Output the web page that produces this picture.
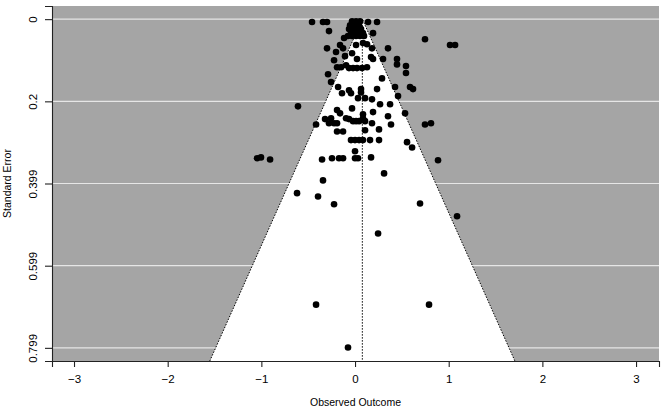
<!DOCTYPE html>
<html>
<head>
<meta charset="utf-8">
<script src="https://cdn.jsdelivr.net/npm/d3@7"></script>
<style>
	body { margin: 0; background: #fff; }
	text { font-family: "Liberation Sans", Arial, Helvetica, sans-serif; fill: #000; }
</style>
</head>
<body>
<div id="appFunnel"></div>
<script>
///////////////////////////////////////////////////////////////////////////
//////////////////////////// data /////////////////////////////////////////
///////////////////////////////////////////////////////////////////////////

// observed outcome of each study
const estimates = [
	-0.459, -0.342, -0.299, -0.032, 0.011, 0.053, 0.139, 0.235, -0.278,
	-0.053, 0, 0.043, -0.064, -0.021, 0.021, 0.064, -0.043, 0, 0.043, 0.085, -0.075, -0.032, 0.011, 0.053, 0.096,
	0.192, -0.117, 0.747, 1.014, 1.068,
	-0.299, -0.203, -0.16, -0.128, -0.032, 0.011, 0.085, 0.128, 0.181, 0.352,
	-0.224, -0.107, 0.021, 0.171, 0.192, 0.299, 0.448, 0.448, 0.544, 0.544,
	-0.288, -0.192, -0.149, -0.096, -0.064, -0.021, 0.021, 0.075, 0.128, 0.288,
	-0.256, -0.181, -0.064, -0.043, 0.064, 0.064, 0.032, 0.107, 0.181, 0.235, 0.427, 0.459, 0.587, 0.619, -0.139,
	-0.609, -0.192, -0.16, -0.032, 0.085, 0.192, 0.267, 0.374, 0.352, 0.534,
	-0.32, -0.256, -0.278, -0.224, -0.192, -0.416, -0.096, -0.064, -0.021, 0.011, 0.043, 0.085, 0.107, 0.181, 0.384, 0.747, 0.811,
	-0.192, -0.128, 0.107, 0.256,
	-0.043, 0, 0.043, 0.085, 0.16, 0.256, 0.555, 0.609, 0,
	-1.046, -1.004, -0.907, -0.352, -0.246, -0.171, -0.128, 0, 0.032, 0.171, 0.886,
	0.31, -0.342, -0.619, -0.395, -0.224, 0.694, 1.089, 0.246, -0.416, 0.79, -0.075
];

// standard error of each study
const stdErrors = [
	0.007, 0.007, 0.007, 0.005, 0.005, 0.005, 0.007, 0.007, 0.029,
	0.015, 0.015, 0.015, 0.024, 0.024, 0.024, 0.024, 0.034, 0.034, 0.034, 0.034, 0.041, 0.041, 0.041, 0.041, 0.041,
	0.034, 0.046, 0.049, 0.063, 0.063,
	0.071, 0.08, 0.063, 0.071, 0.083, 0.063, 0.058, 0.061, 0.071, 0.071,
	0.1, 0.09, 0.097, 0.092, 0.097, 0.097, 0.097, 0.11, 0.114, 0.131,
	0.134, 0.117, 0.117, 0.112, 0.119, 0.119, 0.119, 0.119, 0.117, 0.144,
	0.153, 0.165, 0.173, 0.18, 0.17, 0.178, 0.192, 0.192, 0.195, 0.17, 0.165, 0.187, 0.165, 0.17, 0.18,
	0.212, 0.221, 0.229, 0.217, 0.231, 0.226, 0.207, 0.207, 0.236, 0.229,
	0.243, 0.241, 0.253, 0.253, 0.253, 0.256, 0.241, 0.243, 0.248, 0.248, 0.248, 0.241, 0.248, 0.253, 0.256, 0.256, 0.253,
	0.273, 0.273, 0.27, 0.268,
	0.294, 0.294, 0.294, 0.294, 0.294, 0.294, 0.299, 0.312, 0.321,
	0.338, 0.336, 0.341, 0.341, 0.338, 0.338, 0.338, 0.338, 0.338, 0.336, 0.343,
	0.375, 0.392, 0.423, 0.431, 0.45, 0.448, 0.479, 0.521, 0.694, 0.694, 0.798
];

const pooledEstimate = 0.078;
const maxStdError = 0.799;

const xTicks = [-3, -2, -1, 0, 1, 2, 3];
const yTicks = [0, 0.1998, 0.3995, 0.5993, 0.799];
const yTickLabels = ["0", "0.2", "0.399", "0.599", "0.799"];

///////////////////////////////////////////////////////////////////////////
//////////////////////////// drawing function /////////////////////////////
///////////////////////////////////////////////////////////////////////////

const createChart = () => {
	const data = estimates.map((d, i) => ({ est: d, se: stdErrors[i] }));

	const xAccessor = (d) => d.est;
	const yAccessor = (d) => d.se;

	//////////////////////////// sizes ///////////////////////////////////

	let dimensions = {
		width: 666,
		height: 413,
		margin: { top: 6, right: 7, bottom: 52, left: 52 }
	};
	dimensions.boundedWidth =
		dimensions.width - dimensions.margin.left - dimensions.margin.right;
	dimensions.boundedHeight =
		dimensions.height - dimensions.margin.top - dimensions.margin.bottom;

	const wrapper = d3
		.select("#appFunnel")
		.append("svg")
		.attr("width", dimensions.width)
		.attr("height", dimensions.height);

	const bounds = wrapper
		.append("g")
		.attr("transform", `translate(${dimensions.margin.left},${dimensions.margin.top})`);

	//////////////////////////// scales ///////////////////////////////////////

	// R style 4% padding around the se range
	const pad = maxStdError * 0.04;
	const seBottom = maxStdError + pad;

	const xScale = d3
		.scaleLinear()
		.domain([-3.235, 3.245])
		.range([0, dimensions.boundedWidth]);

	const yScale = d3
		.scaleLinear()
		.domain([-pad, seBottom])
		.range([0, dimensions.boundedHeight]);

	//////////////////////////// background + grid ///////////////////////////

	bounds
		.append("rect")
		.attr("width", dimensions.boundedWidth)
		.attr("height", dimensions.boundedHeight)
		.attr("fill", "#a5a5a5");

	bounds
		.append("g")
		.selectAll("line")
		.data(yTicks)
		.join("line")
		.attr("x1", 0)
		.attr("x2", dimensions.boundedWidth)
		.attr("y1", (d) => yScale(d))
		.attr("y2", (d) => yScale(d))
		.attr("stroke", "#e6e6e6")
		.attr("stroke-width", 1.2);

	//////////////////////////// funnel ///////////////////////////////////////

	const funnel = [
		[pooledEstimate - 1.96 * seBottom, seBottom],
		[pooledEstimate, 0],
		[pooledEstimate + 1.96 * seBottom, seBottom]
	];

	const line = d3
		.line()
		.x((d) => xScale(d[0]))
		.y((d) => yScale(d[1]));

	bounds
		.append("path")
		.attr("d", line(funnel) + "Z")
		.attr("fill", "#fff");

	bounds
		.append("path")
		.attr("d", line(funnel))
		.attr("fill", "none")
		.attr("stroke", "#000")
		.attr("stroke-width", 1)
		.attr("stroke-dasharray", "1.5,1.5");

	bounds
		.append("line")
		.attr("x1", xScale(pooledEstimate))
		.attr("x2", xScale(pooledEstimate))
		.attr("y1", yScale(0))
		.attr("y2", yScale(seBottom))
		.attr("stroke", "#000")
		.attr("stroke-width", 1)
		.attr("stroke-dasharray", "1.5,1.5");

	//////////////////////////// points ///////////////////////////////////////

	bounds
		.selectAll(".dots")
		.data(data)
		.join("circle")
		.attr("class", "dots")
		.attr("cx", (d) => xScale(xAccessor(d)))
		.attr("cy", (d) => yScale(yAccessor(d)))
		.attr("r", 3.3)
		.attr("fill", "#000");

	//////////////////////////// axes /////////////////////////////////////////

	const xAxisGenerator = d3
		.axisBottom(xScale)
		.tickValues(xTicks)
		.tickFormat(d3.format("d"))
		.tickSizeOuter(0)
		.tickSize(6)
		.tickPadding(8);

	const xAxis = bounds
		.append("g")
		.attr("transform", `translate(0,${dimensions.boundedHeight})`)
		.call(xAxisGenerator);

	const yAxisGenerator = d3
		.axisLeft(yScale)
		.tickValues(yTicks)
		.tickFormat((d, i) => yTickLabels[i])
		.tickSizeOuter(0)
		.tickSize(7);

	const yAxis = bounds.append("g").call(yAxisGenerator);

	// R draws labels on the y axis turned sideways
	yAxis
		.selectAll(".tick text")
		.attr("transform", "rotate(-90)")
		.attr("x", 0)
		.attr("y", -15)
		.attr("dy", 0)
		.style("text-anchor", "middle");

	[xAxis, yAxis].forEach((ax) => {
		ax.selectAll("text").style("font-size", "11.5px").attr("font-family", null);
		ax.selectAll("path, line").attr("stroke", "#222").attr("stroke-width", 1.1);
	});

	//////////////////////////// labels ///////////////////////////////////////

	bounds
		.append("text")
		.attr("x", dimensions.boundedWidth / 2)
		.attr("y", dimensions.boundedHeight + 45)
		.style("font-size", "10.5px")
		.style("text-anchor", "middle")
		.text("Observed Outcome");

	bounds
		.append("text")
		.attr("transform", `translate(${-41},${dimensions.boundedHeight / 2}) rotate(-90)`)
		.style("font-size", "10.5px")
		.style("text-anchor", "middle")
		.text("Standard Error");
};

createChart();
</script>
</body>
</html>
